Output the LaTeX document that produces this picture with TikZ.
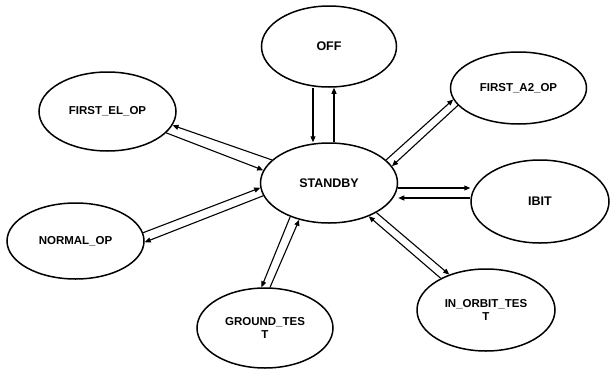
\documentclass[tikz,border=0pt]{standalone}
\usepackage{fontspec}
\setmainfont{Liberation Sans}
\usetikzlibrary{shapes,arrows.meta,positioning,calc}
\tikzstyle{modebox} = [ellipse, draw, line width=1.5pt, minimum width=137pt, minimum height=80pt, inner sep=0pt, align=center, font=\bfseries\fontsize{11.5}{13.5}\selectfont]
\tikzstyle{mainbox} = [modebox, font=\bfseries\fontsize{12.5}{14}\selectfont]
\tikzstyle{link} = [->, line width=1.1pt]

\begin{document}
\begin{tikzpicture}[x=1pt, y=-1pt, >={Triangle[length=6pt,width=5pt]}]
    \useasboundingbox (0,0) rectangle (611,370);
    \node[mainbox] (standby) at (329,183) {STANDBY};
    \node[mainbox, minimum width=135pt, minimum height=81pt] (off) at (329,46.5) {OFF};
    \node[modebox, minimum height=79pt] (firstel) at (107.5,111.5) {FIRST\_EL\_OP};
    \node[modebox, minimum width=136pt, minimum height=72pt] (firsta2) at (518.5,88) {FIRST\_A2\_OP};
    \node[mainbox, minimum width=138pt, minimum height=83pt] (ibit) at (540,201.5) {IBIT};
    \node[modebox, minimum height=76pt] (normal) at (75.5,241) {NORMAL\_OP};
    \node[modebox, minimum width=136pt] (ground) at (265,328) {GROUND\_TES\\T};
    \node[modebox, minimum width=138pt, minimum height=82pt] (inorbit) at (486,310) {IN\_ORBIT\_TES\\T};

    \draw[link] ([xshift=-16pt]off.south) -- ([xshift=-16pt]standby.north);
    \draw[link] ([xshift=5pt]standby.north) -- ([xshift=5pt]off.south);
    \draw[link] (standby.158) -- (firstel.-12);
    \draw[link] (firstel.-20) -- (standby.169);
    \draw[link] (normal.7) -- (standby.184);
    \draw[link] (standby.191) -- (normal.-1);
    \draw[link] (standby.221) -- (ground.95);
    \draw[link] (ground.83) -- (standby.231);
    \draw[link] (inorbit.145) -- (standby.-40);
    \draw[link] (standby.-32) -- (inorbit.136);
    \draw[link] (standby.22) -- (firsta2.190);
    \draw[link] (firsta2.196) -- (standby.15);
    \draw[link] ([yshift=-5pt]standby.east) -- ([yshift=13.5pt]ibit.west);
    \draw[link] ([yshift=3.5pt]ibit.west) -- ([yshift=-15pt]standby.east);
\end{tikzpicture}
\end{document}
